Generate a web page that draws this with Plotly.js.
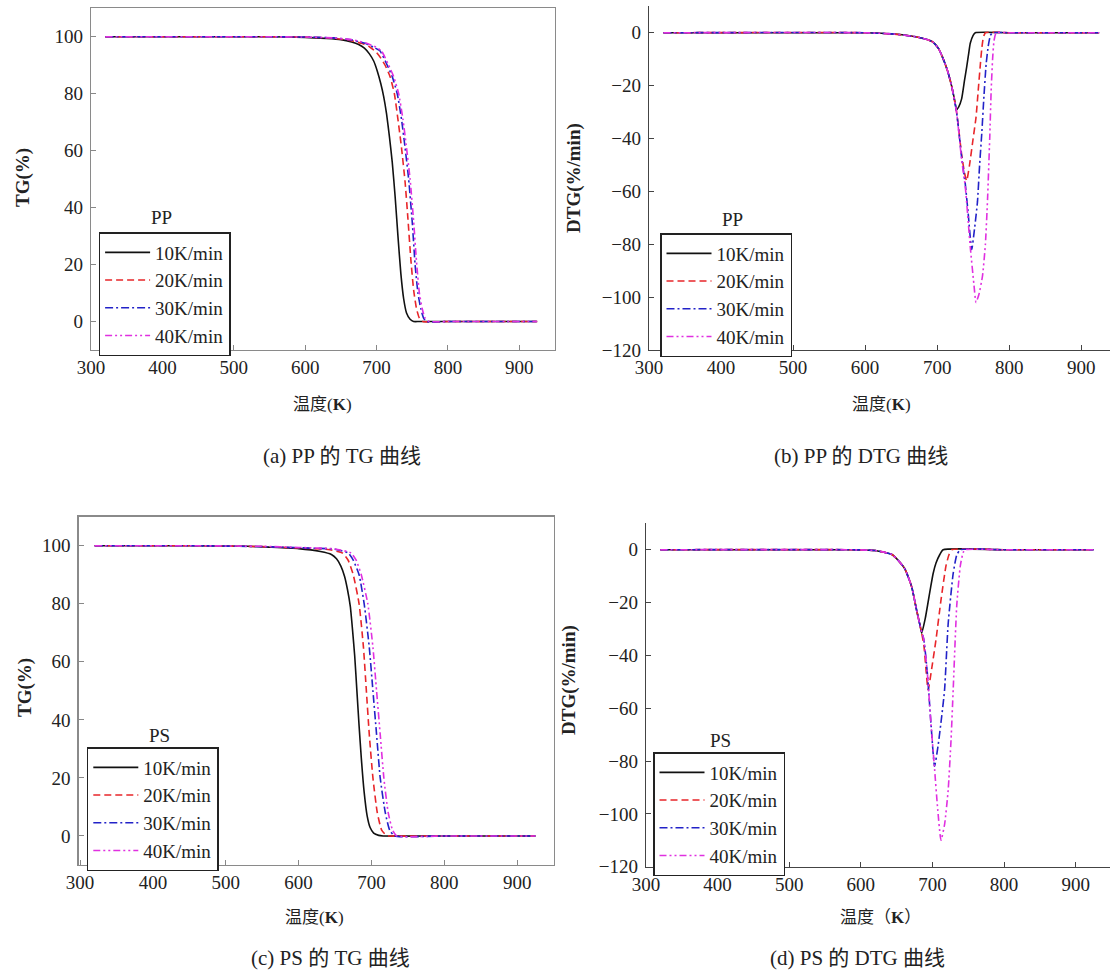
<!DOCTYPE html>
<html>
<head>
<meta charset="utf-8">
<script src="https://cdn.plot.ly/plotly-3.0.1.min.js"></script>
<style>
html,body{margin:0;padding:0;background:#fff;}
#chart{width:1110px;height:977px;}
</style>
</head>
<body>
<div id="chart"></div>
<script>
// ---------- data ----------
const rateLabels = ['10K/min', '20K/min', '30K/min', '40K/min'];
const axisTicksX = [300, 400, 500, 600, 700, 800, 900];

// (a) PP TG
const ppTgT10 = [320,450,550,600,630,650,665,675,683,690,696,701,706,710,714,718,722,726,730,734,738,742,747,752,760,850,925];
const ppTgW10 = [100,100,100,99.8,99.4,99,98.2,97.3,96,94,91.5,88,83.5,79,73,65,56,44,30,17,8,3,0.8,0,0,0,0];
const ppTgT20 = [320,450,550,600,640,665,680,690,700,706,712,719,725,730,735,740,744,748,752,756,760,765,800,925];
const ppTgW20 = [100,100,100,99.9,99.5,98.6,97.6,96.5,94.5,92.5,90,86,80,71,61,49,36,22,11,4.5,1.2,0,0,0];
const ppTgT30 = [320,450,550,600,640,665,685,697,705,715,722,729,735,740,745,750,754,758,762,766,770,800,925];
const ppTgW30 = [100,100,100,99.9,99.6,98.9,97.6,96.2,95,90,86,80,71,61,50,35,20,10,4.5,1.2,0,0,0];
const ppTgT40 = [320,450,550,600,640,665,685,699,707,717,724,731,737,742,747,752,756,760,764,768,774,800,925];
const ppTgW40 = [100,100,100,99.9,99.6,99,97.8,96.4,95,90,86,80,71,61,50,35,21,10,4.5,1.2,0,0,0];

// (b) PP DTG
const ppDtgT10 = [320,600,640,670,685,694,702,708,714,720,724,727,730,734,738,741,744,746,750,753,800,925];
const ppDtgV10 = [0,0,-0.5,-1.5,-2.5,-3.5,-6,-9.6,-14,-20,-25,-29,-28,-25,-18,-13,-7.5,-4,-1,0,0,0];
const ppDtgT20 = [320,600,640,670,685,694,702,708,714,720,727,734,738,741,745,750,754,757,760,762,764,767,800,925];
const ppDtgV20 = [0,0,-0.5,-1.5,-2.5,-3.5,-6,-9.6,-14,-20,-30,-46,-53,-56,-50,-40,-32,-22,-12,-6,-2,0,0,0];
const ppDtgT30 = [320,600,640,670,685,694,702,708,714,720,727,734,739,743,748,752,756,759,762,765,768,771,774,777,800,925];
const ppDtgV30 = [0,0,-0.5,-1.5,-2.5,-3.5,-6,-9.6,-14,-20,-30,-47,-57,-68,-82,-74,-64,-50,-38,-24,-12,-5,-1,0,0,0];
const ppDtgT40 = [320,600,640,670,685,694,702,708,714,720,727,734,739,746,751,754,758,763,767,770,773,775,777,779,782,800,925];
const ppDtgV40 = [0,0,-0.5,-1.5,-2.5,-3.5,-6,-9.6,-14,-20,-30,-48,-58,-81,-95,-102,-99,-92,-80,-63,-40,-22,-10,-3,0,0,0];

// (c) PS TG
const psTgT10 = [320,450,530,560,600,630,645,652,658,663,667,671,674,677,680,683,686,690,694,698,703,710,716,800,925];
const psTgW10 = [100,100,99.8,99.5,99,98,97,95.5,93,89.5,85,79,71,62,50,38,27,15,7,3,1,0.2,0,0,0];
const psTgT20 = [320,450,550,600,640,660,668,675,683,689,693,697,702,708,714,720,725,800,925];
const psTgW20 = [100,100,99.7,99.2,98.7,97.5,95,90,80,65,50,35,20,8,2,0.3,0,0,0];
const psTgT30 = [320,450,550,600,650,668,675,683,690,697,702,707,712,719,725,732,800,925];
const psTgW30 = [100,100,99.7,99.3,98.8,97.5,95,90,80,65,50,35,20,8,2,0,0,0];
const psTgT40 = [320,450,550,600,650,672,679,686,695,702,707,712,717,723,729,735,800,925];
const psTgW40 = [100,100,99.8,99.4,98.9,97.5,95,90,80,65,50,35,20,8,2,0,0,0];

// (d) PS DTG
const psDtgT10 = [320,580,620,644,661,671,678,683,685,690,697,701,705,710,715,800,925];
const psDtgV10 = [0,0,-0.3,-1.9,-7,-14,-23,-29,-31.6,-26,-15,-9,-5,-2,0,0,0];
const psDtgT20 = [320,580,620,644,661,671,678,683,688,694,699,705,712,719,723,727,800,925];
const psDtgV20 = [0,0,-0.3,-1.9,-7,-14,-23,-29,-36,-53,-45,-34,-19,-6,-2,0,0,0];
const psDtgT30 = [320,580,620,644,661,671,678,683,688,693,698,703,708,713,717,722,729,734,739,800,925];
const psDtgV30 = [0,0,-0.3,-1.9,-7,-14,-23,-29,-34,-47,-66,-82,-74,-63,-53,-28,-9,-2,0,0,0];
const psDtgT40 = [320,580,620,644,661,671,678,683,688,693,698,703,707,712,717,722,726,729,734,739,743,746,800,925];
const psDtgV40 = [0,0,-0.3,-1.9,-7,-14,-23,-29,-34,-47,-66,-83,-97,-110,-104,-91,-72,-53,-21,-6,-1,0,0,0];

// ---------- styles ----------
const colors = ['#111111', '#e8262a', '#2222c8', '#e030e0'];
const dashes = ['solid', '7px,4px', '8px,3px,2px,3px', '7px,3px,2px,3px,2px,3px'];
const serif = 'Liberation Serif';
const cjk = 'Liberation Serif, Noto Sans CJK SC';

const panels = [
  {xs:[ppTgT10,ppTgT20,ppTgT30,ppTgT40], ys:[ppTgW10,ppTgW20,ppTgW30,ppTgW40], xa:'x', ya:'y', leg:'legend'},
  {xs:[ppDtgT10,ppDtgT20,ppDtgT30,ppDtgT40], ys:[ppDtgV10,ppDtgV20,ppDtgV30,ppDtgV40], xa:'x2', ya:'y2', leg:'legend2'},
  {xs:[psTgT10,psTgT20,psTgT30,psTgT40], ys:[psTgW10,psTgW20,psTgW30,psTgW40], xa:'x3', ya:'y3', leg:'legend3'},
  {xs:[psDtgT10,psDtgT20,psDtgT30,psDtgT40], ys:[psDtgV10,psDtgV20,psDtgV30,psDtgV40], xa:'x4', ya:'y4', leg:'legend4'}
];

const traces = [];
panels.forEach(p => {
  for (let i = 0; i < 4; i++) {
    traces.push({
      type: 'scatter', mode: 'lines',
      x: p.xs[i], y: p.ys[i], name: rateLabels[i],
      xaxis: p.xa, yaxis: p.ya, legend: p.leg,
      line: {color: colors[i], width: 1.6, dash: dashes[i], shape: 'spline', smoothing: 0.5},
      hoverinfo: 'skip'
    });
  }
});

const W = 1110, H = 977;
const px = v => v / W;
const py = v => 1 - v / H;

function xAx(dom, rng, box) {
  return {
    domain: dom, range: rng, tickvals: axisTicksX, ticks: 'inside', ticklen: 5,
    tickcolor: box ? '#888' : '#444', showline: true, linecolor: box ? '#8a8a8a' : '#444',
    linewidth: 1.3, mirror: box ? true : false, showgrid: false, zeroline: false,
    tickfont: {family: serif, size: 19, color: '#222'}, fixedrange: true
  };
}
function yAx(dom, rng, dt, anchor, box) {
  return {
    domain: dom, range: rng, dtick: dt, tick0: 0, ticks: 'inside', ticklen: 5, anchor: anchor,
    tickcolor: box ? '#888' : '#444', showline: true, linecolor: box ? '#8a8a8a' : '#444',
    linewidth: 1.3, mirror: box ? true : false, showgrid: false, zeroline: false,
    tickfont: {family: serif, size: 19, color: '#222'}, ticklabelstandoff: 3, fixedrange: true
  };
}

function legendAt(xp, yp) {
  return {
    x: px(xp), y: py(yp), xanchor: 'left', yanchor: 'top', xref: 'paper', yref: 'paper',
    bgcolor: '#ffffff', bordercolor: '#222', borderwidth: 1.5, itemwidth: 45,
    font: {family: serif, size: 19, color: '#222'}, tracegroupgap: 0
  };
}

function ann(text, xp, yp, size, opts) {
  return Object.assign({
    text: text, x: px(xp), y: py(yp), xref: 'paper', yref: 'paper',
    xanchor: 'center', yanchor: 'middle', showarrow: false,
    font: {family: cjk, size: size, color: '#222'}
  }, opts || {});
}

const layout = {
  width: W, height: H, autosize: false,
  margin: {l: 0, r: 0, t: 0, b: 0, pad: 0},
  paper_bgcolor: '#fff', plot_bgcolor: '#fff',
  font: {family: serif},
  showlegend: true,
  xaxis:  xAx([px(91), px(555)], [300, 950], true),
  yaxis:  yAx([py(350), py(8.3)], [-10, 110], 20, 'x', true),
  xaxis2: Object.assign(xAx([px(649), 1], [300, 940], false), {anchor: 'y2'}),
  yaxis2: yAx([py(350), py(6.3)], [-120, 10], 20, 'x2', false),
  xaxis3: Object.assign(xAx([px(78.6), px(553.6)], [298, 950], true), {anchor: 'y3'}),
  yaxis3: yAx([py(865), py(516.7)], [-10, 110], 20, 'x3', true),
  xaxis4: Object.assign(xAx([px(646), 1], [300, 948], false), {anchor: 'y4'}),
  yaxis4: yAx([py(866.7), py(523.3)], [-120, 10], 20, 'x4', false),
  legend:  legendAt(98.6, 232),
  legend2: legendAt(660, 233),
  legend3: legendAt(86.8, 747),
  legend4: legendAt(653, 752),
  annotations: [
    ann('温度(<b>K</b>)', 322, 404, 17),
    ann('温度(<b>K</b>)', 881, 404, 17),
    ann('温度(<b>K</b>)', 314, 917, 17),
    ann('温度（<b>K</b>）', 880, 917, 17),
    ann('(a) PP 的 TG 曲线', 342, 456, 21),
    ann('(b) PP 的 DTG 曲线', 861, 456, 21),
    ann('(c) PS 的 TG 曲线', 330, 958, 21),
    ann('(d) PS 的 DTG 曲线', 857, 958, 21),
    ann('<b>TG(%)</b>', 23, 178, 19, {textangle: -90, font: {family: serif, size: 19, color: '#222'}}),
    ann('<b>DTG(%/min)</b>', 574, 178, 19, {textangle: -90, font: {family: serif, size: 19, color: '#222'}}),
    ann('<b>TG(%)</b>', 25, 688, 19, {textangle: -90, font: {family: serif, size: 19, color: '#222'}}),
    ann('<b>DTG(%/min)</b>', 569, 680, 19, {textangle: -90, font: {family: serif, size: 19, color: '#222'}}),
    ann('PP', 161, 218, 19, {font: {family: serif, size: 19, color: '#222'}}),
    ann('PP', 732, 220, 19, {font: {family: serif, size: 19, color: '#222'}}),
    ann('PS', 159, 735, 19, {font: {family: serif, size: 19, color: '#222'}}),
    ann('PS', 720, 740, 19, {font: {family: serif, size: 19, color: '#222'}})
  ]
};

Plotly.newPlot('chart', traces, layout, {staticPlot: true, displayModeBar: false});
</script>
</body>
</html>
